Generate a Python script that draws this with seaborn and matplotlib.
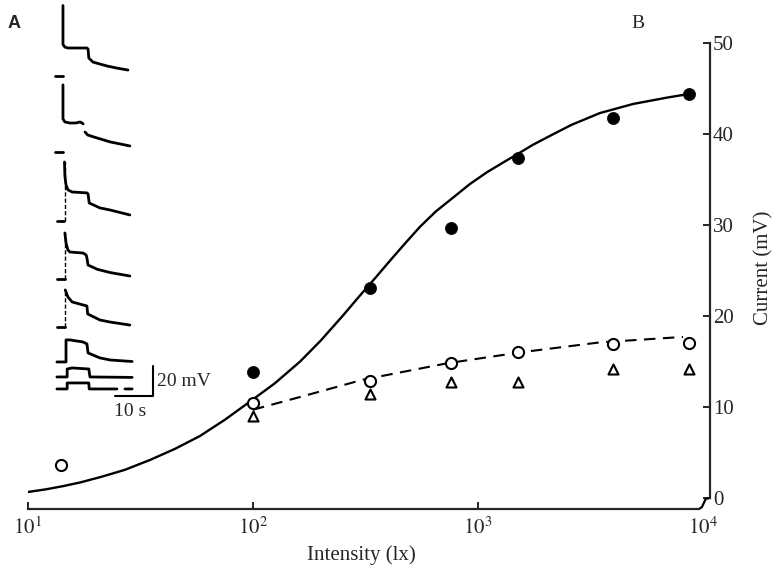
import numpy as np
import pandas as pd
import matplotlib
matplotlib.use("Agg")
import matplotlib.pyplot as plt
import seaborn as sns

# ---------------- data (panel B) ----------------
intensity_filled = [100, 330, 760, 1500, 4000, 8700]
current_filled = [13.8, 23.1, 29.7, 37.4, 41.8, 44.4]

intensity_open = [14, 100, 330, 760, 1500, 4000, 8700]
current_open = [3.6, 10.4, 12.9, 14.8, 16.0, 16.9, 17.0]

intensity_tri = [100, 330, 760, 1500, 4000, 8700]
current_tri = [9.0, 11.4, 12.7, 12.7, 14.2, 14.2]

fit_solid_x = [10, 12, 14.3, 17, 21, 27, 35, 45, 58, 75, 97, 125, 162, 200,
               250, 300, 350, 407, 475, 552, 650, 774, 920, 1096, 1300, 1500,
               1750, 2090, 2600, 3480, 4890, 6920, 8670]
fit_solid_y = [0.66, 0.95, 1.3, 1.7, 2.3, 3.1, 4.2, 5.4, 6.8, 8.6, 10.6, 12.6,
               15.0, 17.3, 20.0, 22.3, 24.2, 26.1, 28.0, 29.8, 31.5, 33.0, 34.5,
               35.8, 36.9, 37.8, 38.8, 39.8, 41.0, 42.3, 43.3, 44.0, 44.4]

fit_dashed_x = [100, 162, 308, 728, 1538, 3480, 8150]
fit_dashed_y = [9.7, 11.1, 13.0, 14.8, 16.0, 17.1, 17.7]

xtick_values = [10, 100, 1000, 10000]
xtick_labels = [r"$10^{1}$", r"$10^{2}$", r"$10^{3}$", r"$10^{4}$"]
ytick_values = [0, 10, 20, 30, 40, 50]

# ---------------- data (panel A, recorded traces; time s, voltage mV) ----------------
trace_t = [
    [2.1, 2.1, 2.6, 3.4, 8.4, 8.7, 8.9, 10.0, 13.7, 16.3, 19.2],
    [2.1, 2.1, 2.6, 3.9, 5.5, 6.6, 7.1, 7.4, np.nan, 7.9, 8.6, 11.1, 14.5, 19.7],
    [2.5, 2.6, 2.9, 3.4, 4.5, 8.4, 8.7, 9.0, 11.8, 14.5, 19.7],
    [2.6, 2.9, 3.4, 3.9, 7.4, 8.2, 8.4, 8.7, 11.1, 14.5, 19.7],
    [2.7, 3.4, 4.5, 7.4, 8.4, 8.6, 11.8, 14.5, 19.7],
    [0.5, 2.9, 2.9, 3.9, 7.4, 8.4, 8.7, 11.8, 14.5, 20.3],
    [0.5, 3.2, 3.2, 4.5, 8.9, 9.2, 20.3],
    [0.5, 3.2, 3.2, 8.9, 9.0, 16.3, np.nan, 18.4, 20.3],
]
trace_v = [
    [47, 21, 19.3, 18.7, 18.7, 18.0, 12.0, 9.3, 6.7, 5.3, 4.0],
    [44.7, 22, 20, 19.3, 19.3, 20.0, 19.3, 18.7, np.nan, 13.3, 11.3, 9.3, 6.7, 4.0],
    [39.3, 30, 24, 20.7, 19.3, 18.7, 18.0, 12, 8.7, 7.3, 4.0],
    [30.7, 24, 19.3, 18, 17.3, 16, 14, 9.3, 6.5, 4.3, 2.0],
    [24.7, 20, 16.7, 14.7, 14, 8.7, 4.7, 3.3, 1.3],
    [0, 0, 14.7, 14.7, 13.3, 12.0, 6.0, 2.7, 1.3, 0.3],
    [0, 0, 5.3, 6.0, 5.3, 0, -0.3],
    [0, 0, 4.0, 4.0, 0, 0, np.nan, 0, 0],
]
# separate pre-stimulus baseline dashes (traces 1-5) and faint rising phases (traces 3-5)
baseline_dash_t = [[0.0, 2.0], [0.0, 2.0], [0.5, 2.4], [0.5, 2.5], [0.5, 2.5]]
rise_t = [None, None, 2.5, 2.6, 2.7]
rise_peak = [None, None, 39.3, 30.7, 24.7]

# ---------------- styling ----------------
sns.set_style("ticks")
plt.rcParams["font.family"] = ["Liberation Serif", "DejaVu Serif"]
plt.rcParams["mathtext.fontset"] = "stix"

W, H = 776, 572
fig = plt.figure(figsize=(W / 100, H / 100), dpi=100)

# main axes: x=10 at px 28, right spine at px 710; y top (50) at px 43, bottom spine at px 509
ax = fig.add_axes([28 / W, 1 - 509 / H, 682 / W, 466 / H])
ax.set_xscale("log")
xmax = 10 ** 4.031
ax.set_xlim(10, xmax)
ax.set_ylim(-1.21, 50)

sns.lineplot(x=fit_solid_x, y=fit_solid_y, ax=ax, color="black", lw=1.7,
             sort=False, estimator=None)
sns.lineplot(x=fit_dashed_x, y=fit_dashed_y, ax=ax, color="black", lw=1.5,
             sort=False, estimator=None, dashes=False)
ax.lines[-1].set_dashes([5.5, 3.6])

sns.scatterplot(x=intensity_tri, y=current_tri, ax=ax, marker="^", s=52,
                facecolor="white", edgecolor="black", linewidth=1.5, zorder=4,
                clip_on=False)
sns.scatterplot(x=intensity_open, y=current_open, ax=ax, marker="o", s=64,
                facecolor="white", edgecolor="black", linewidth=1.5, zorder=5,
                clip_on=False)
sns.scatterplot(x=intensity_filled, y=current_filled, ax=ax, marker="o", s=76,
                color="black", edgecolor="black", linewidth=0.5, zorder=5,
                clip_on=False)

# axes / spines
ax.spines["left"].set_visible(False)
ax.spines["top"].set_visible(False)
ax.spines["right"].set_linewidth(1.6)
ax.spines["bottom"].set_linewidth(1.6)
ax.spines["right"].set_bounds(0, 50)
x_end = 10 ** 3.982
ax.spines["bottom"].set_bounds(10, x_end)
# little joint between the two axes
ax.plot([x_end, 10 ** 3.995, 10 ** 4.012, xmax], [-1.21, -1.0, -0.1, 0],
        color="black", lw=1.6, clip_on=False, solid_capstyle="butt")

ax.yaxis.tick_right()
ax.set_yticks(ytick_values)
ax.set_yticklabels([str(v) for v in ytick_values])
ax.tick_params(axis="y", direction="in", length=5, width=1.4, pad=2,
               labelsize=15, left=False, right=True)
ax.set_xticks(xtick_values)
ax.set_xticklabels(xtick_labels)
ax.xaxis.set_minor_locator(matplotlib.ticker.NullLocator())
ax.tick_params(axis="x", direction="in", length=5, width=1.4, pad=6,
               labelsize=15)
ax.xaxis.get_major_ticks()[-1].tick1line.set_visible(False)

ax.set_xlabel("Intensity (lx)", fontsize=15)
ax.xaxis.set_label_coords((361 - 28) / 682, (509 - 555) / 466)
ax.xaxis.label.set_va("center")
ax.yaxis.set_label_position("right")
ax.set_ylabel("Current (mV)", fontsize=15, rotation=90)
ax.yaxis.set_label_coords((764 - 28) / 682, (509 - 268) / 466)
ax.yaxis.label.set_va("center")
ax.yaxis.label.set_ha("center")
ax.grid(False)

# ---------------- panel A inset ----------------
px_per_s, px_per_mV = 3.8, 1.5
ix0, ix1, iy0, iy1 = 50, 215, 0, 420
axA = fig.add_axes([ix0 / W, 1 - iy1 / H, (ix1 - ix0) / W, (iy1 - iy0) / H])
axA.set_xlim((ix0 - 55) / px_per_s, (ix1 - 55) / px_per_s)
axA.set_ylim(0, (iy1 - iy0) / px_per_mV)
axA.axis("off")
axA.patch.set_alpha(0)

trace_offsets = [229.3, 178.7, 132.7, 94.0, 62.0, 38.7, 28.7, 20.7]
for i, (tt, vv) in enumerate(zip(trace_t, trace_v)):
    off = trace_offsets[i]
    axA.plot(tt, np.array(vv, dtype=float) + off, color="black", lw=2.0,
             solid_joinstyle="round", solid_capstyle="round", clip_on=False)
for i, bt in enumerate(baseline_dash_t):
    off = trace_offsets[i]
    axA.plot(bt, [off, off], color="black", lw=2.0)
    if rise_t[i] is not None:
        axA.plot([rise_t[i], rise_t[i]], [off, off + rise_peak[i]], color="black",
                 lw=1.0, dashes=[3, 1.5])

# scale bar: 10 s and 20 mV
sb_t0, sb_len_t = 15.8, 10
sb_v0, sb_len_v = 16.0, 20
axA.plot([sb_t0, sb_t0 + sb_len_t, sb_t0 + sb_len_t],
         [sb_v0, sb_v0, sb_v0 + sb_len_v], color="black", lw=1.5,
         clip_on=False)
axA.text(sb_t0 + sb_len_t + 1.0, sb_v0 + 10, "20 mV", fontsize=14,
         ha="left", va="center")
axA.text(sb_t0 + 3.9, sb_v0 - 10, "10 s", fontsize=14, ha="center",
         va="center")

# panel letters
fig.text(14 / W, 1 - 23 / H, "A", fontsize=13, fontweight="bold",
         family=["Liberation Sans", "DejaVu Sans"], ha="center", va="center")
fig.text(638 / W, 1 - 23 / H, "B", fontsize=14, ha="center", va="center")

fig.savefig("out.png", dpi=100, facecolor="white")
